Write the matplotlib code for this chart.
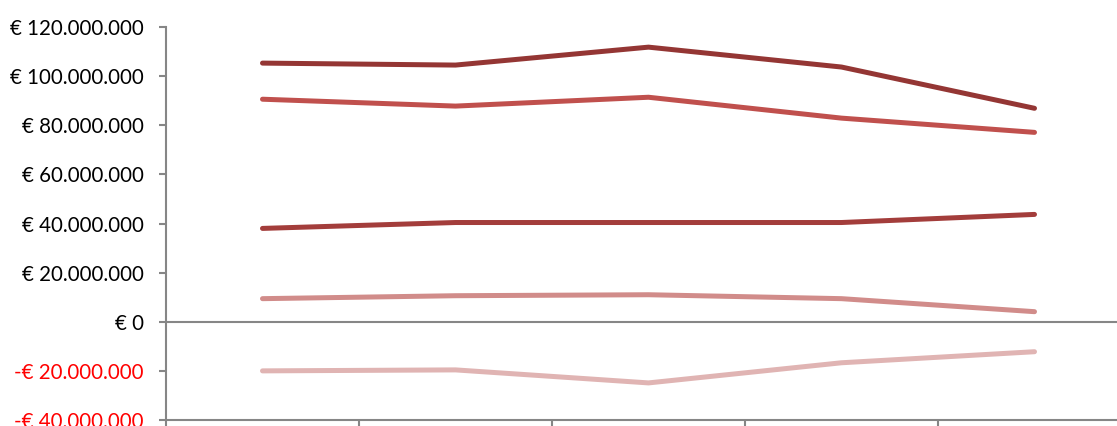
import matplotlib
matplotlib.use("Agg")
import matplotlib.pyplot as plt
from matplotlib.ticker import FuncFormatter, MultipleLocator

plt.rcParams['font.family'] = ['Lato', 'DejaVu Sans']

categorie = ["2008", "2009", "2010", "2011", "2012"]

serie_a = [105.3e6, 104.5e6, 111.8e6, 103.7e6, 86.9e6]
serie_b = [90.6e6, 87.8e6, 91.4e6, 82.9e6, 77.1e6]
serie_c = [38.0e6, 40.4e6, 40.4e6, 40.4e6, 43.7e6]
serie_d = [9.4e6, 10.6e6, 11.0e6, 9.4e6, 4.1e6]
serie_e = [-20.0e6, -19.6e6, -24.9e6, -16.7e6, -12.2e6]

colori = ["#943634", "#C0504D", "#A33D3B", "#D18C8A", "#E0B4B3"]


def euro(v, pos=None):
    testo = "{:,.0f}".format(abs(v)).replace(",", ".")
    if v < 0:
        return "-€ " + testo
    return "€ " + testo


fig = plt.figure(figsize=(11.17, 4.26), dpi=100)
ax = fig.add_axes([166 / 1117, 6 / 426, 965 / 1117, 393 / 426])

x = range(len(categorie))
for serie, col in zip([serie_a, serie_b, serie_c, serie_d, serie_e], colori):
    ax.plot(x, serie, color=col, linewidth=3.6, solid_capstyle='round')

ax.set_xlim(-0.5, len(categorie) - 0.5)
ax.set_ylim(-40e6, 120e6)
ax.yaxis.set_major_locator(MultipleLocator(20e6))
ax.yaxis.set_major_formatter(FuncFormatter(euro))
ax.set_xticks([i - 0.5 for i in range(len(categorie) + 1)])
ax.set_xticklabels([])

grigio = "#868686"
ax.axhline(0, color=grigio, linewidth=1.5, zorder=0)
for lato in ["top", "right"]:
    ax.spines[lato].set_visible(False)
for lato in ["left", "bottom"]:
    ax.spines[lato].set_color(grigio)
    ax.spines[lato].set_linewidth(1.5)
ax.tick_params(axis='both', colors=grigio, width=1.5, length=5)
ax.tick_params(axis='y', labelsize=14.8, labelcolor='black', pad=11)

for val, lab in zip(ax.get_yticks(), ax.get_yticklabels()):
    if val < 0:
        lab.set_color("red")

fig.savefig("out.png", dpi=100)
